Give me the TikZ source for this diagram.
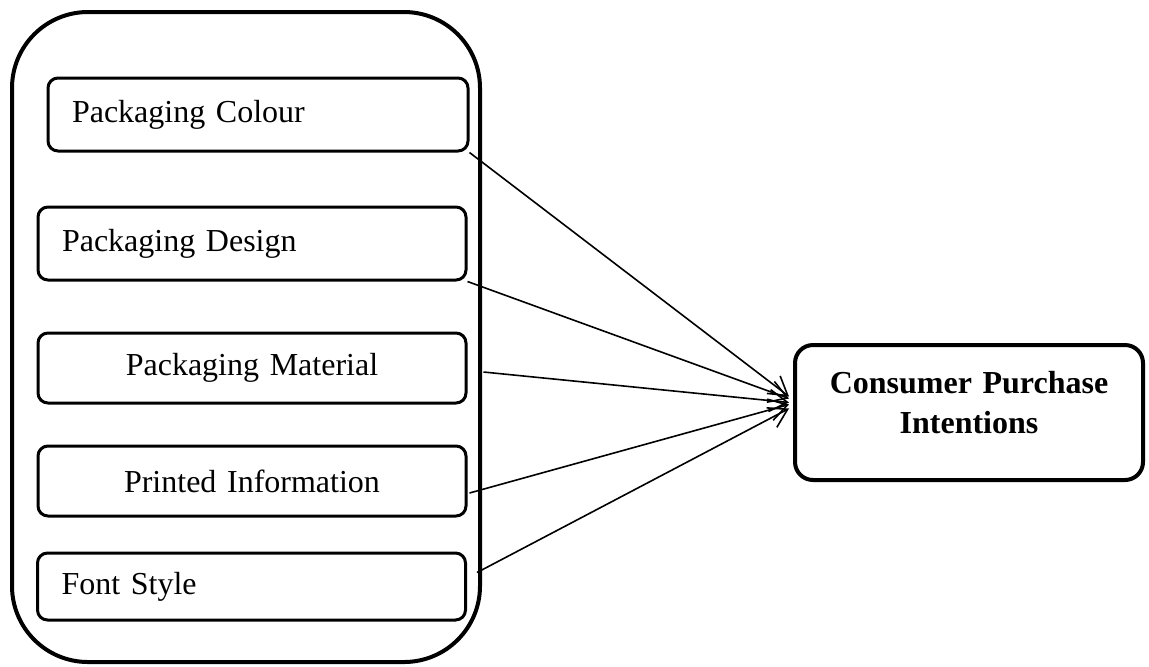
\documentclass[tikz,border=0pt]{standalone}
\usepackage{fontspec}
\setmainfont{Liberation Serif}
\usetikzlibrary{arrows.meta,positioning}

\begin{document}
\begin{tikzpicture}[x=0.5pt,y=-0.5pt,>={Straight Barb[length=9pt,width=11pt]},every node/.style={font=\fontsize{16}{20}\selectfont},
factor/.style={draw,line width=1.5pt,rounded corners=5pt,inner xsep=12pt,text width=190pt},
outcome/.style={draw,line width=2pt,rounded corners=9pt,align=center,inner xsep=7pt,text width=160pt,minimum height=67.5pt,text depth=30pt,font=\fontsize{16}{20}\selectfont\bfseries}]
\useasboundingbox (0,0) rectangle (1149,666);
\node[draw,line width=2pt,rounded corners=38pt,minimum width=234pt,minimum height=325pt](group) at (246,337){};
\node[factor,text width=186pt,align=left,minimum height=36.5pt](colour) at (258,114.5){Packaging Colour};
\node[factor,align=left,minimum height=36.5pt](design) at (252,243.5){Packaging Design};
\node[factor,align=center,minimum height=35pt](material) at (252,368){Packaging Material};
\node[factor,align=center,minimum height=35pt](printed) at (252,481){Printed Information};
\node[factor,align=left,minimum height=33.5pt](font) at (251.5,586.5){Font Style};
\node[outcome](cpi) at (969,412.5){Consumer Purchase\\Intentions};
\draw[->,line width=0.8pt](colour.south east)--([xshift=-2pt,yshift=8pt]cpi.west);
\draw[->,line width=0.8pt](design.south east)--([xshift=-2pt,yshift=7pt]cpi.west);
\draw[->,line width=0.8pt]([xshift=8pt,yshift=-2pt]material.east)--([xshift=-2pt,yshift=5pt]cpi.west);
\draw[->,line width=0.8pt]([xshift=1pt,yshift=-6pt]printed.east)--([xshift=-2pt,yshift=4pt]cpi.west);
\draw[->,line width=0.8pt]([xshift=5pt,yshift=7pt]font.east)--([xshift=-2pt,yshift=2pt]cpi.west);
\end{tikzpicture}
\end{document}
